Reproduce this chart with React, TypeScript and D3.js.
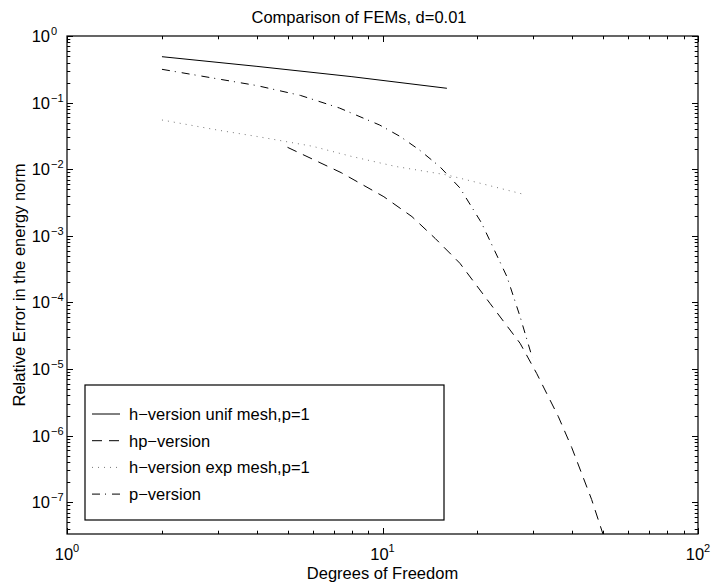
import * as d3 from "d3";

// axis limits
const xLimits = [1, 100];
const yLimits = [3.33e-8, 1];
const xTickExps = [0, 1, 2];
const yTickExps = [0, -1, -2, -3, -4, -5, -6, -7];

// h-version uniform mesh, p=1
const hUnifX = [2, 4, 8, 16];
const hUnifY = [0.489, 0.35, 0.245, 0.164];

// hp-version
const hpX = [5, 7.4, 10.1, 12.4, 14.7, 17.6, 21.9, 27.3, 30.8, 36.1, 39.8, 46, 50];
const hpY = [0.0213, 0.00886, 0.00386, 0.00194, 9.1e-4, 3.86e-4, 9.7e-5, 2.43e-5, 8.6e-6, 1.92e-6, 6.6e-7, 1.1e-7, 3.3e-8];

// h-version exp mesh, p=1
const hExpX = [2, 3, 4, 6, 8, 11, 16, 20, 28];
const hExpY = [0.0548, 0.0387, 0.031, 0.0221, 0.0155, 0.011, 0.0082, 0.0063, 0.0042];

// p-version
const pX = [2, 4, 5.5, 7.3, 9.8, 11.4, 13.1, 15.2, 17.6, 20.6, 24.8, 27.3, 29.8];
const pY = [0.316, 0.18, 0.128, 0.083, 0.046, 0.0308, 0.0194, 0.0109, 0.00522, 1.56e-3, 2.43e-4, 6.1e-5, 1.51e-5];

const labels = ["h−version unif mesh,p=1", "hp−version", "h−version exp mesh,p=1", "p−version"];

const W = 716;
const H = 587;
const margin = { top: 36, right: 18, bottom: 53, left: 67 };
const font = "'Liberation Sans', Arial, Helvetica, sans-serif";

const styles = [
  { stroke: "#000", dash: "none", width: 1 },
  { stroke: "#000", dash: "10,7", width: 1 },
  { stroke: "#777", dash: "1,5", width: 1 },
  { stroke: "#000", dash: "8,5,1,6", width: 1 },
];

export default function App() {
  const x = d3.scaleLog().domain(xLimits).range([margin.left, W - margin.right]);
  const y = d3.scaleLog().domain(yLimits).range([H - margin.bottom, margin.top]);
  const [x0, x1] = x.range();
  const [y0, y1] = y.range(); // y0 bottom, y1 top

  const series = [
    hUnifX.map((v, i) => [v, hUnifY[i]]),
    hpX.map((v, i) => [v, hpY[i]]),
    hExpX.map((v, i) => [v, hExpY[i]]),
    pX.map((v, i) => [v, pY[i]]),
  ];

  const line = d3
    .line<number[]>()
    .x((d) => x(d[0]))
    .y((d) => y(d[1]));

  const isMajor = (v: number) => Math.abs(Math.log10(v) - Math.round(Math.log10(v))) < 1e-9;
  const xTicks = x.ticks();
  const yTicks = y.ticks().filter((v) => v >= yLimits[0] && v <= yLimits[1]);

  const major = 6;
  const minor = 3.3;

  const lx = 85;
  const ly = 385;
  const lw = 359;
  const lh = 135;

  return (
    <svg
      width={W}
      height={H}
      style={{ position: "absolute", left: 0, top: 0, background: "#fff" }}
      fontFamily={font}
    >
      <rect x={0} y={0} width={W} height={H} fill="#fff" />
      <defs>
        <clipPath id="plot">
          <rect x={x0} y={y1} width={x1 - x0} height={y0 - y1} />
        </clipPath>
      </defs>

      {/* curves */}
      <g clipPath="url(#plot)">
        {series.map((s, i) => (
          <path
            key={i}
            d={line(s) || ""}
            fill="none"
            stroke={styles[i].stroke}
            strokeWidth={styles[i].width}
            strokeDasharray={styles[i].dash}
          />
        ))}
      </g>

      {/* ticks */}
      <g stroke="#000" strokeWidth={1}>
        {xTicks.map((t, i) => {
          const len = isMajor(t) ? major : minor;
          const px = Math.round(x(t)) + 0.5;
          return (
            <g key={"xt" + i}>
              <line x1={px} x2={px} y1={y0} y2={y0 - len} />
              <line x1={px} x2={px} y1={y1} y2={y1 + len} />
            </g>
          );
        })}
        {yTicks.map((t, i) => {
          const len = isMajor(t) ? major : minor;
          const py = Math.round(y(t)) + 0.5;
          return (
            <g key={"yt" + i}>
              <line x1={x0} x2={x0 + len} y1={py} y2={py} />
              <line x1={x1} x2={x1 - len} y1={py} y2={py} />
            </g>
          );
        })}
      </g>

      {/* box */}
      <rect x={x0} y={y1} width={x1 - x0} height={y0 - y1} fill="none" stroke="#000" strokeWidth={1.2} />

      {/* tick labels */}
      <g fontSize={16.5} fill="#000">
        {xTickExps.map((e) => (
          <text key={"xl" + e} x={x(Math.pow(10, e))} y={y0 + 26} textAnchor="middle">
            10
            <tspan fontSize={11} dy={-8}>
              {e < 0 ? "−" + -e : String(e)}
            </tspan>
          </text>
        ))}
        {yTickExps.map((e) => (
          <g key={"yl" + e}>
            <text x={50} y={y(Math.pow(10, e)) + 6} textAnchor="end">
              10
            </text>
            <text x={51} y={y(Math.pow(10, e)) - 1} fontSize={11}>
              {e < 0 ? "−" + -e : String(e)}
            </text>
          </g>
        ))}
      </g>

      {/* titles */}
      <text x={359} y={23} textAnchor="middle" fontSize={16.5}>
        Comparison of FEMs, d=0.01
      </text>
      <text x={(x0 + x1) / 2} y={579} textAnchor="middle" fontSize={16.5}>
        Degrees of Freedom
      </text>
      <text
        transform={`translate(25,${(y0 + y1) / 2}) rotate(-90)`}
        textAnchor="middle"
        fontSize={16.5}
      >
        Relative Error in the energy norm
      </text>

      {/* legend */}
      <rect x={lx} y={ly} width={lw} height={lh} fill="#fff" stroke="#000" strokeWidth={1.2} />
      {labels.map((lab, i) => {
        const cy = 414 + i * 26.7;
        return (
          <g key={"lg" + i}>
            <line
              x1={92}
              x2={120}
              y1={cy}
              y2={cy}
              stroke={styles[i].stroke}
              strokeWidth={styles[i].width}
              strokeDasharray={styles[i].dash}
            />
            <text x={129} y={cy + 6} fontSize={16.5}>
              {lab}
            </text>
          </g>
        );
      })}
    </svg>
  );
}
